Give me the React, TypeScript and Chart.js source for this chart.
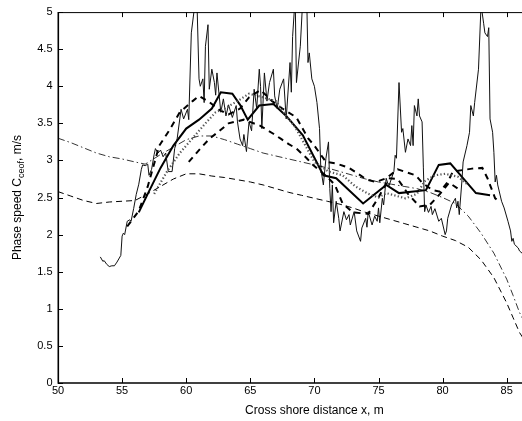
import { useEffect, useRef } from "react";
import { Chart, registerables } from "chart.js";

Chart.register(...registerables);

// Axis ticks
const xTickValues = [50, 55, 60, 65, 70, 75, 80, 85, 90];
const yTickValues = [0, 0.5, 1, 1.5, 2, 2.5, 3, 3.5, 4, 4.5, 5];

// Measured phase speed (thin solid)
const measuredX = [
  53.3, 53.5, 53.6, 53.8, 54.0, 54.2, 54.4, 54.6, 54.9, 55.0, 55.1, 55.2, 55.4, 55.6, 55.7, 55.9,
  56.1, 56.3, 56.5, 56.6, 56.8, 57.0, 57.1, 57.3, 57.5, 57.6, 57.8, 58.0, 58.2, 58.4, 58.6, 58.9,
  59.1, 59.3, 59.5, 59.6, 59.8, 60.1, 60.2, 60.4, 60.6, 60.8, 61.0, 61.1, 61.3, 61.4, 61.5, 61.7,
  61.8, 62.0, 62.2, 62.3, 62.4, 62.7, 62.9, 63.1, 63.3, 63.6, 63.9, 64.0, 64.2, 64.4, 64.5, 64.7,
  64.9, 65.1, 65.3, 65.5, 65.7, 65.8, 65.9, 66.1, 66.3, 66.5, 66.8, 66.9, 67.1, 67.3, 67.6, 67.8,
  68.1, 68.2, 68.3, 68.5, 68.6, 68.75, 68.9, 69.1, 69.4, 69.5, 69.6, 69.8, 70.0, 70.2, 70.4, 70.5,
  70.7, 70.9, 71.1, 71.2, 71.3, 71.4, 71.5, 71.7, 71.9, 72.0, 72.3, 72.5, 72.7, 72.8, 73.1, 73.3,
  73.6, 73.7, 74.0, 74.1, 74.2, 74.5, 74.7, 74.9, 75.0, 75.1, 75.3, 75.4, 75.6, 75.8, 76.2, 76.3,
  76.4, 76.6, 76.8, 76.9, 77.1, 77.3, 77.5, 77.6, 77.7, 77.8, 78.0, 78.1, 78.2, 78.4, 78.5, 78.6,
  78.7, 78.9, 79.1, 79.2, 79.4, 79.7, 79.9, 80.2, 80.3, 80.4, 80.7, 81.0, 81.1, 81.2, 81.3, 81.5,
  81.6, 81.9, 82.1, 82.2, 82.4, 82.5, 82.8, 83.0, 83.2, 83.3, 83.5, 83.6, 83.7, 83.9, 84.0, 84.1,
  84.2, 84.3, 84.6, 84.8, 85.1, 85.3, 85.4, 85.5, 85.6, 85.9, 86.0, 86.2, 86.4,
];
const measuredY = [
  1.70, 1.64, 1.65, 1.60, 1.57, 1.58, 1.58, 1.63, 1.72, 1.98, 2.02, 2.00, 2.18, 2.20, 2.18, 2.35,
  2.54, 2.68, 2.88, 2.94, 2.93, 2.95, 2.80, 2.88, 3.08, 3.16, 3.10, 3.14, 3.05, 3.10, 2.85, 2.85,
  3.16, 3.30, 3.56, 3.69, 3.56, 3.69, 3.55, 4.72, 5.00, 5.40, 4.10, 4.00, 4.10, 3.78, 4.54, 4.83,
  3.96, 4.23, 4.05, 3.88, 4.18, 3.65, 3.83, 3.60, 3.75, 3.58, 3.74, 3.52, 3.29, 3.20, 3.35, 3.12,
  3.52, 3.40, 3.96, 3.70, 4.23, 4.00, 3.43, 4.18, 3.80, 4.05, 4.23, 3.87, 3.70, 3.96, 4.10, 3.56,
  4.32, 3.92, 4.67, 5.20, 4.05, 4.30, 4.54, 5.20, 5.20, 4.32, 4.45, 4.10, 4.00, 3.78, 3.43, 2.89,
  2.67, 3.03, 3.25, 2.62, 2.31, 2.67, 2.16, 2.45, 2.22, 2.05, 2.31, 2.20, 2.27, 2.13, 2.31, 2.05,
  1.91, 2.09, 2.22, 2.10, 2.31, 2.13, 2.25, 2.18, 2.36, 2.16, 2.49, 2.40, 2.76, 2.65, 2.85, 3.07,
  3.03, 4.05, 3.38, 3.43, 3.11, 3.29, 3.20, 3.47, 3.20, 3.74, 3.60, 3.83, 3.60, 3.52, 2.90, 2.31,
  2.40, 2.30, 2.38, 2.27, 2.35, 2.18, 2.22, 2.00, 2.05, 2.22, 2.40, 2.49, 2.36, 2.45, 2.27, 2.71,
  2.98, 3.20, 3.38, 3.74, 3.60, 3.78, 4.23, 5.10, 4.85, 4.72, 4.67, 4.79, 3.56, 3.38, 3.11, 2.71,
  2.80, 2.67, 2.45, 2.36, 2.18, 2.05, 1.91, 1.95, 1.87, 1.82, 1.78, 1.75, 1.72,
];

// Smoothed estimate (thick solid)
const smoothX = [56.3, 57, 58, 59, 60, 61, 62, 62.7, 63.6, 64.2, 64.8, 65.7, 66.8, 67.8, 69.1, 70.7, 71.7, 73.8, 75.6, 76.6, 78.7, 79.7, 80.6, 82.6, 83.7];
const smoothY = [2.30, 2.55, 2.90, 3.20, 3.43, 3.55, 3.70, 3.92, 3.90, 3.75, 3.55, 3.74, 3.76, 3.60, 3.34, 2.80, 2.76, 2.42, 2.67, 2.56, 2.60, 2.94, 2.96, 2.56, 2.53];

// Model A (thick dashed, upper)
const modelAX = [55.4, 56.3, 57.0, 57.9, 58.7, 59.5, 60.5, 61.0, 61.7, 62.6, 63.3, 64.2, 64.9, 65.8, 66.7, 67.5, 68.6, 69.5, 70.0, 70.9, 71.7, 72.7, 74.1, 74.8, 75.6, 76.5, 77.9, 78.4, 79.2, 79.8, 80.4, 80.8, 82.3, 83.1, 83.5, 84.1, 84.4];
const modelAY = [2.11, 2.32, 2.65, 3.20, 3.41, 3.65, 3.80, 3.87, 3.80, 3.68, 3.62, 3.70, 3.85, 3.95, 3.80, 3.70, 3.58, 3.30, 3.20, 2.98, 2.96, 2.90, 2.74, 2.71, 2.76, 2.88, 2.80, 2.70, 2.60, 2.58, 2.71, 2.85, 2.89, 2.90, 2.76, 2.49, 2.45];

// Model B (thick dashed, lower)
const modelBX = [60.2, 61.0, 61.8, 62.6, 63.3, 64.5, 65.75, 66.8, 67.4, 68.0, 68.6, 69.4, 69.9, 70.5, 71.0, 71.6, 72.2, 73.0, 74.2, 75.0, 75.8, 76.5, 77.3, 78.2, 79.0, 79.8, 80.5, 81.2];
const modelBY = [2.98, 3.14, 3.29, 3.40, 3.50, 3.55, 3.47, 3.36, 3.29, 3.22, 3.16, 3.03, 2.94, 2.85, 2.78, 2.67, 2.42, 2.30, 2.28, 2.50, 2.76, 2.75, 2.55, 2.38, 2.40, 2.55, 2.70, 2.62];

// Model C (dotted)
const modelCX = [57.5, 58.5, 59.5, 60.5, 61.5, 62.3, 63.0, 64.0, 64.9, 66.0, 67.0, 67.8, 68.5, 69.3, 70.0, 71.1, 72.2, 73.2, 74.2, 75.0, 75.6, 77.1, 78.0, 78.6, 79.4, 80.2, 81.2, 82.0];
const modelCY = [2.55, 2.85, 3.10, 3.30, 3.50, 3.65, 3.70, 3.80, 3.90, 3.85, 3.80, 3.60, 3.45, 3.20, 2.98, 2.85, 2.80, 2.65, 2.55, 2.50, 2.56, 2.49, 2.55, 2.72, 2.80, 2.82, 2.78, 2.67];

// Linear theory (thin dash-dot)
const linearX = [50, 51, 52, 53, 54, 55, 56, 56.8, 58, 59, 60, 61, 62, 63, 64, 65, 66, 67, 68, 69, 70, 71, 72, 73, 74, 75, 76, 77, 78, 79, 80, 81, 82, 83, 84, 85, 85.5, 86, 86.3, 86.6];
const linearY = [3.30, 3.24, 3.17, 3.10, 3.05, 3.02, 2.98, 2.95, 3.08, 3.18, 3.28, 3.33, 3.33, 3.28, 3.22, 3.16, 3.10, 3.06, 3.02, 2.98, 2.94, 2.90, 2.85, 2.80, 2.75, 2.71, 2.68, 2.65, 2.62, 2.57, 2.50, 2.42, 2.25, 2.02, 1.75, 1.40, 1.18, 0.95, 0.85, 0.72];

// Shallow-water estimate (thin dashed)
const shallowX = [50, 51, 52, 53, 54, 55, 56, 57, 58, 59, 60, 61, 62, 63, 64, 65, 66, 67, 68, 69, 70, 71, 72, 73, 74, 75, 76, 77, 78, 79, 80, 81, 82, 83, 84, 85, 85.5, 86, 86.3, 86.6];
const shallowY = [2.58, 2.52, 2.46, 2.42, 2.44, 2.45, 2.46, 2.55, 2.65, 2.75, 2.82, 2.82, 2.79, 2.77, 2.74, 2.71, 2.67, 2.62, 2.57, 2.53, 2.49, 2.45, 2.41, 2.36, 2.30, 2.25, 2.20, 2.15, 2.10, 2.05, 1.98, 1.92, 1.83, 1.66, 1.42, 1.08, 0.88, 0.68, 0.60, 0.50];

const pts = (xs: number[], ys: number[]) => xs.map((x, i) => ({ x, y: ys[i] }));

const FONT = "'Liberation Sans', Arial, Helvetica, sans-serif";

// Inward tick marks, axis frame and titles (with subscript)
const framePlugin = {
  id: "frame",
  afterDraw(chart: any) {
    const { ctx, chartArea: a, scales } = chart;
    ctx.save();
    ctx.strokeStyle = "#000";
    ctx.lineWidth = 1;
    const seg = (x1: number, y1: number, x2: number, y2: number) => {
      ctx.beginPath();
      ctx.moveTo(x1, y1);
      ctx.lineTo(x2, y2);
      ctx.stroke();
    };
    for (const v of xTickValues) {
      const px = Math.round(scales.x.getPixelForValue(v)) + 0.5;
      seg(px, a.bottom, px, a.bottom - 5);
      seg(px, a.top, px, a.top + 5);
    }
    for (const v of yTickValues) {
      const py = Math.round(scales.y.getPixelForValue(v)) + 0.5;
      seg(a.left, py, a.left + 5, py);
      seg(a.right, py, a.right - 5, py);
    }
    // frame
    ctx.lineWidth = 1;
    seg(a.left, a.top + 0.5, a.right, a.top + 0.5);
    seg(a.right - 0.5, a.top, a.right - 0.5, a.bottom);
    ctx.lineWidth = 1.6;
    seg(a.left + 0.3, a.top, a.left + 0.3, a.bottom + 0.8);
    seg(a.left, a.bottom, a.right, a.bottom);

    // x title
    ctx.fillStyle = "#000";
    ctx.font = `12px ${FONT}`;
    ctx.textAlign = "center";
    ctx.textBaseline = "alphabetic";
    ctx.fillText("Cross shore distance x, m", (a.left + a.right) / 2, 414);

    // y title, rotated, with subscript
    const p1 = "Phase speed C";
    const sub = "ceof";
    const p3 = ", m/s";
    ctx.font = `12px ${FONT}`;
    const w1 = ctx.measureText(p1).width;
    const w3 = ctx.measureText(p3).width;
    ctx.font = `9px ${FONT}`;
    const w2 = ctx.measureText(sub).width;
    const total = w1 + w2 + w3;
    ctx.translate(20.5, (a.top + a.bottom) / 2);
    ctx.rotate(-Math.PI / 2);
    ctx.textAlign = "left";
    let sx = -total / 2;
    ctx.font = `12px ${FONT}`;
    ctx.fillText(p1, sx, 0);
    sx += w1;
    ctx.font = `9px ${FONT}`;
    ctx.fillText(sub, sx, 3);
    sx += w2;
    ctx.font = `12px ${FONT}`;
    ctx.fillText(p3, sx, 0);
    ctx.restore();
  },
};

export default function App() {
  const canvasRef = useRef<HTMLCanvasElement | null>(null);

  useEffect(() => {
    const canvas = canvasRef.current;
    if (!canvas) return;
    const base = { pointRadius: 0, fill: false, tension: 0, borderJoinStyle: "miter" as const };
    const chart = new Chart(canvas, {
      type: "line",
      data: {
        datasets: [
          { ...base, label: "shallow", data: pts(shallowX, shallowY), borderColor: "#000", borderWidth: 1, borderDash: [6, 4] },
          { ...base, label: "linear", data: pts(linearX, linearY), borderColor: "#000", borderWidth: 0.8, borderDash: [7, 3, 1.5, 3] },
          { ...base, label: "modelC", data: pts(modelCX, modelCY), borderColor: "#555", borderWidth: 2.2, borderDash: [1.3, 2.2] },
          { ...base, label: "modelB", data: pts(modelBX, modelBY), borderColor: "#000", borderWidth: 2, borderDash: [6, 5] },
          { ...base, label: "modelA", data: pts(modelAX, modelAY), borderColor: "#000", borderWidth: 2, borderDash: [6, 5] },
          { ...base, label: "measured", data: pts(measuredX, measuredY), borderColor: "#111", borderWidth: 1 },
          { ...base, label: "smooth", data: pts(smoothX, smoothY), borderColor: "#000", borderWidth: 2 },
        ],
      },
      options: {
        animation: false,
        responsive: false,
        maintainAspectRatio: false,
        events: [],
        layout: { padding: { left: 0, right: 9.2, top: 9, bottom: 0 } },
        plugins: { legend: { display: false }, tooltip: { enabled: false }, title: { display: false } },
        scales: {
          x: {
            type: "linear",
            min: 50,
            max: 90,
            grid: { display: false, drawTicks: false },
            border: { display: false },
            ticks: {
              stepSize: 5,
              includeBounds: false,
              autoSkip: false,
              maxRotation: 0,
              padding: 1,
              color: "#000",
              font: { family: FONT, size: 11 },
              callback: (v: any) => String(v),
            },
            afterFit: (s: any) => {
              s.height = 38;
            },
          },
          y: {
            min: 0,
            max: 5,
            grid: { display: false, drawTicks: false },
            border: { display: false },
            ticks: {
              stepSize: 0.5,
              includeBounds: false,
              autoSkip: false,
              padding: 5.5,
              color: "#000",
              font: { family: FONT, size: 11 },
              callback: (v: any) => String(v),
            },
            afterFit: (s: any) => {
              s.width = 58;
            },
          },
        },
      },
      plugins: [framePlugin],
    });
    return () => chart.destroy();
  }, []);

  return (
    <div style={{ position: "fixed", left: 0, top: 0, width: 522, height: 421, overflow: "hidden", background: "#fff" }}>
      <canvas ref={canvasRef} width={580} height={421} style={{ display: "block", width: 580, height: 421 }} />
    </div>
  );
}
